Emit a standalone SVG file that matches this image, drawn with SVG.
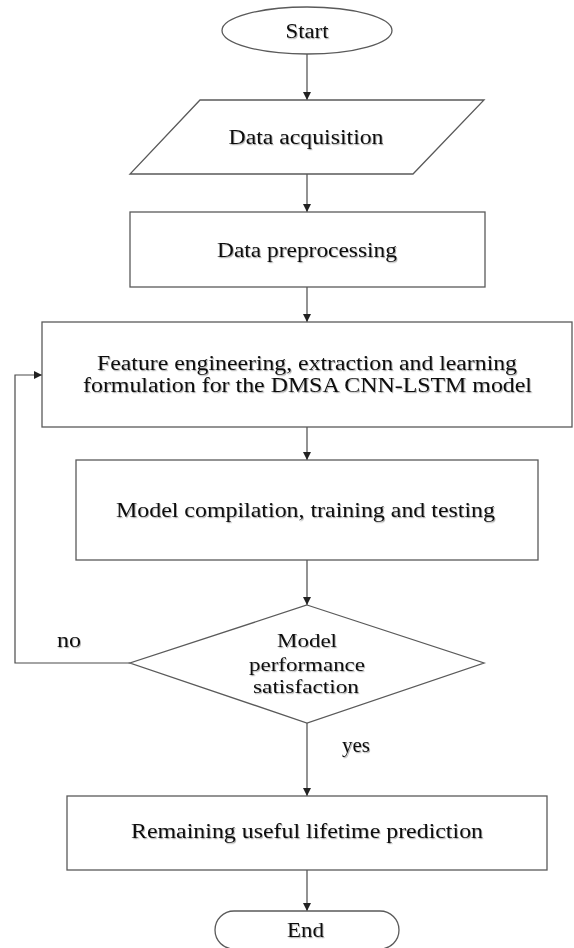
<svg xmlns="http://www.w3.org/2000/svg" width="574" height="948" viewBox="0 0 574 948">
  <style>
    .shape { fill: #ffffff; stroke: #5a5a5a; stroke-width: 1.3; }
    .edge { fill: none; stroke: #4a4a4a; stroke-width: 1.2; }
    .lbl { font-family: "Liberation Serif", "Times New Roman", serif; font-size: 20.5px; fill: #111111; text-anchor: middle; filter: url(#soft); }
    .small { font-size: 19.5px; }
    .side { text-anchor: start; }
  </style>
  <defs>
    <marker id="arrow" markerUnits="userSpaceOnUse" markerWidth="8" markerHeight="8" refX="8" refY="4" orient="auto">
      <path d="M0,0 L8,4 L0,8 z" fill="#222222"/>
    </marker>
    <!-- faint drop shadow under the labels -->
    <filter id="soft" x="-5%" y="-30%" width="110%" height="160%">
      <feDropShadow dx="1" dy="1.2" stdDeviation="0.7" flood-color="#000000" flood-opacity="0.3"/>
    </filter>
  </defs>

  <rect width="574" height="948" fill="#ffffff"/>

  <!-- connectors -->
  <g id="connectors">
    <line class="edge" x1="307" y1="54" x2="307" y2="100" marker-end="url(#arrow)"/>
    <line class="edge" x1="307" y1="174" x2="307" y2="212" marker-end="url(#arrow)"/>
    <line class="edge" x1="307" y1="287" x2="307" y2="322" marker-end="url(#arrow)"/>
    <line class="edge" x1="307" y1="427" x2="307" y2="460" marker-end="url(#arrow)"/>
    <line class="edge" x1="307" y1="560" x2="307" y2="605" marker-end="url(#arrow)"/>
    <line class="edge" x1="307" y1="723" x2="307" y2="796" marker-end="url(#arrow)"/>
    <line class="edge" x1="307" y1="870" x2="307" y2="911" marker-end="url(#arrow)"/>
    <!-- feedback loop: "no" branch back to feature engineering -->
    <polyline class="edge" points="130,663 15,663 15,375 42,375" marker-end="url(#arrow)"/>
    <text class="lbl side" x="57" y="647" textLength="24" lengthAdjust="spacingAndGlyphs">no</text>
    <text class="lbl side" x="342" y="752" textLength="28" lengthAdjust="spacingAndGlyphs">yes</text>
  </g>

  <g id="start">
    <ellipse class="shape" cx="307" cy="30.5" rx="85" ry="23.5"/>
    <text class="lbl" x="307" y="38" textLength="43" lengthAdjust="spacingAndGlyphs">Start</text>
  </g>

  <g id="data-acquisition">
    <polygon class="shape" points="200,100 484,100 413,174 130,174"/>
    <text class="lbl" x="306" y="144" textLength="155" lengthAdjust="spacingAndGlyphs">Data acquisition</text>
  </g>

  <g id="data-preprocessing">
    <rect class="shape" x="130" y="212" width="355" height="75"/>
    <text class="lbl" x="307" y="257" textLength="180" lengthAdjust="spacingAndGlyphs">Data preprocessing</text>
  </g>

  <g id="feature-engineering">
    <rect class="shape" x="42" y="322" width="530" height="105"/>
    <text class="lbl" x="307" y="370" textLength="420" lengthAdjust="spacingAndGlyphs">Feature engineering,  extraction  and  learning</text>
    <text class="lbl" x="307.5" y="392" textLength="449" lengthAdjust="spacingAndGlyphs">formulation for the DMSA CNN-LSTM  model</text>
  </g>

  <g id="model-training">
    <rect class="shape" x="76" y="460" width="462" height="100"/>
    <text class="lbl" x="305.5" y="517" textLength="379" lengthAdjust="spacingAndGlyphs">Model compilation, training and testing</text>
  </g>

  <g id="performance-check">
    <polygon class="shape" points="307,605 484,663 307,723 130,663"/>
    <text class="lbl small" x="307" y="647" textLength="60" lengthAdjust="spacingAndGlyphs">Model</text>
    <text class="lbl small" x="307" y="671" textLength="116" lengthAdjust="spacingAndGlyphs">performance</text>
    <text class="lbl small" x="306" y="693" textLength="106" lengthAdjust="spacingAndGlyphs">satisfaction</text>
  </g>

  <g id="rul-prediction">
    <rect class="shape" x="67" y="796" width="480" height="74"/>
    <text class="lbl" x="307" y="838" textLength="352" lengthAdjust="spacingAndGlyphs">Remaining  useful  lifetime  prediction</text>
  </g>

  <g id="end">
    <rect class="shape" x="215" y="911" width="184" height="38" rx="19" ry="19"/>
    <text class="lbl" x="305.5" y="937" textLength="37" lengthAdjust="spacingAndGlyphs">End</text>
  </g>
</svg>
